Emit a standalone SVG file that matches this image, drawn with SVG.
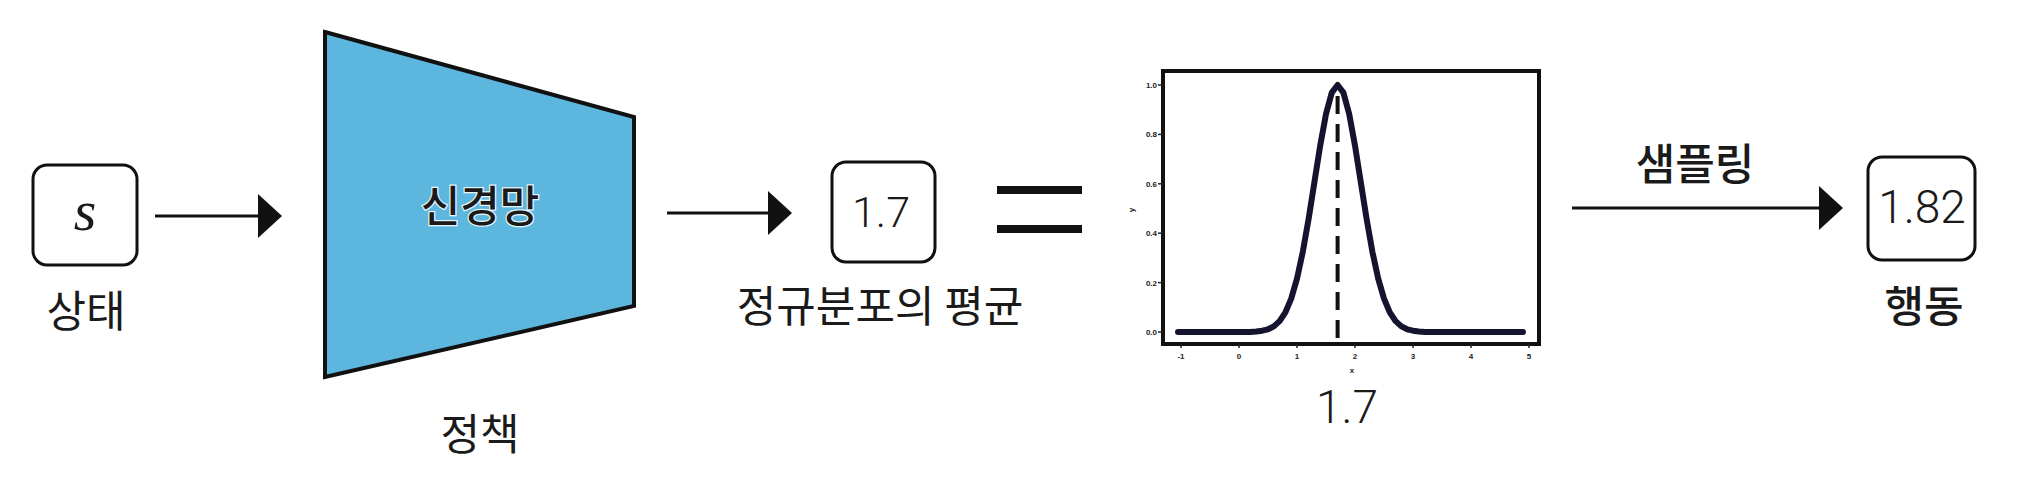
<svg xmlns="http://www.w3.org/2000/svg" width="2021" height="487" viewBox="0 0 2021 487">
<style>
  .box{fill:#fff;stroke:#111;stroke-width:3}
  .ko{font-family:"Noto Sans CJK KR","Noto Sans",sans-serif;fill:#1a1a1a;text-anchor:middle}
  .num{font-family:Roboto,"Liberation Sans",sans-serif;font-weight:300;fill:#1a1a1a;text-anchor:middle}
  .conn{stroke:#111;stroke-width:3;fill:none}
  .tick{font-family:"Liberation Sans",sans-serif;font-weight:bold;font-size:8px;fill:#222}
  .tk{stroke:#222;stroke-width:1.5}
</style>
<defs>
  <marker id="ah" viewBox="0 0 24 44" markerWidth="24" markerHeight="44" refX="4" refY="22" markerUnits="userSpaceOnUse" orient="auto">
    <path d="M0,0 L24,22 L0,44 Z" fill="#111"/>
  </marker>
</defs>
<rect width="2021" height="487" fill="#fff"/>

<g id="connectors">
  <line class="conn" x1="155" y1="216" x2="262" y2="216" marker-end="url(#ah)"/>
  <line class="conn" x1="667" y1="213" x2="772" y2="213" marker-end="url(#ah)"/>
  <line class="conn" x1="1572" y1="208" x2="1823" y2="208" marker-end="url(#ah)"/>
  <text class="ko" x="1695" y="180" font-size="43" font-weight="500">샘플링</text>
</g>

<g id="state">
  <rect class="box" x="33" y="165" width="104" height="100" rx="14"/>
  <text x="85" y="230" font-family="'Liberation Serif',serif" font-style="italic" font-size="58" text-anchor="middle" fill="#1a1a1a">s</text>
  <text class="ko" x="86" y="327" font-size="43">상태</text>
</g>

<g id="policy">
  <polygon points="325,32 634,117 634,306 325,377" fill="#5db6de" stroke="#111" stroke-width="4" stroke-linejoin="miter"/>
  <text class="ko" x="480" y="222" font-size="43" font-weight="500" fill="#161630" stroke="#e6f5fc" stroke-width="2.5" paint-order="stroke">신경망</text>
  <text class="ko" x="480" y="450" font-size="43">정책</text>
</g>

<g id="mean">
  <rect class="box" x="832" y="162" width="103" height="100" rx="14"/>
  <text class="num" x="881" y="227" font-size="43">1.7</text>
  <text class="ko" x="880" y="322" font-size="43">정규분포의 평균</text>
</g>

<g id="equals">
  <rect x="997" y="186" width="85" height="8" fill="#111"/>
  <rect x="997" y="225" width="85" height="8" fill="#111"/>
</g>

<g id="plot">
  <rect x="1163" y="71" width="376" height="273" fill="#fff" stroke="#111" stroke-width="4"/>
  <line x1="1337.6" y1="96" x2="1337.6" y2="344" stroke="#111" stroke-width="4" stroke-dasharray="18 10"/>
  <polyline fill="none" stroke="#14142e" stroke-width="6" stroke-linejoin="round" stroke-linecap="round"
    points="1178,332 1250,332 1256.4,331.5 1262.2,330.7 1268,329.3 1273.8,326.4 1279.6,321.1 1285.4,312.3 1291.2,298.6 1297,278.6 1302.8,251.8 1308.6,218.9 1314.4,182.2 1320.2,145.6 1326,114 1331.8,92.6 1337.6,85 1343.4,92.6 1349.2,114 1355,145.6 1360.8,182.2 1366.6,218.9 1372.4,251.8 1378.2,278.6 1384,298.6 1389.8,312.3 1395.6,321.1 1401.4,326.4 1407.2,329.3 1413,330.7 1418.8,331.5 1425,332 1523,332"/>
  <g class="tk">
    <line x1="1158" y1="85" x2="1163" y2="85"/>
    <line x1="1158" y1="134.4" x2="1163" y2="134.4"/>
    <line x1="1158" y1="183.8" x2="1163" y2="183.8"/>
    <line x1="1158" y1="233.2" x2="1163" y2="233.2"/>
    <line x1="1158" y1="282.6" x2="1163" y2="282.6"/>
    <line x1="1158" y1="332" x2="1163" y2="332"/>
    <line x1="1181" y1="344" x2="1181" y2="348"/>
    <line x1="1239" y1="344" x2="1239" y2="348"/>
    <line x1="1297" y1="344" x2="1297" y2="348"/>
    <line x1="1355" y1="344" x2="1355" y2="348"/>
    <line x1="1413" y1="344" x2="1413" y2="348"/>
    <line x1="1471" y1="344" x2="1471" y2="348"/>
    <line x1="1529" y1="344" x2="1529" y2="348"/>
  </g>
  <g class="tick" text-anchor="end">
    <text x="1157" y="88">1.0</text>
    <text x="1157" y="137.4">0.8</text>
    <text x="1157" y="186.8">0.6</text>
    <text x="1157" y="236.2">0.4</text>
    <text x="1157" y="285.6">0.2</text>
    <text x="1157" y="335">0.0</text>
  </g>
  <g class="tick" text-anchor="middle">
    <text x="1181" y="359">-1</text>
    <text x="1239" y="359">0</text>
    <text x="1297" y="359">1</text>
    <text x="1355" y="359">2</text>
    <text x="1413" y="359">3</text>
    <text x="1471" y="359">4</text>
    <text x="1529" y="359">5</text>
    <text x="1352" y="373">x</text>
    <text x="1134" y="210" transform="rotate(-90 1134 210)">y</text>
  </g>
  <text class="num" x="1347" y="423" font-size="46">1.7</text>
</g>

<g id="action">
  <rect class="box" x="1868" y="157" width="107" height="103" rx="14"/>
  <text class="num" x="1922" y="223" font-size="46">1.82</text>
  <text class="ko" x="1924" y="322" font-size="43" font-weight="500">행동</text>
</g>
</svg>
